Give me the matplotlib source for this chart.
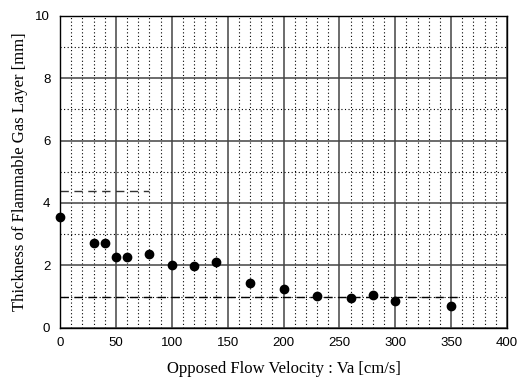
import numpy as np
import matplotlib
matplotlib.use('Agg')
import matplotlib.pyplot as plt

# measured thickness vs opposed flow velocity
velocity = [0, 30, 40, 50, 60, 80, 100, 120, 140, 170, 200, 230, 260, 280, 300, 350]
thickness = [3.55, 2.72, 2.72, 2.27, 2.28, 2.37, 2.02, 1.97, 2.11, 1.43, 1.25,
             1.02, 0.94, 1.05, 0.86, 0.69]

# reference dashed levels: (x range, y)
upper_x = [0, 80]
upper_y = 4.4
lower_x = [0, 360]
lower_y = 1.0

fig = plt.figure(figsize=(5.2, 3.78), dpi=100)
ax = fig.add_axes([0.1154, 0.133, 0.8596, 0.825])

ax.set_xlim(0, 400)
ax.set_ylim(0, 10)
ax.set_xticks(np.arange(0, 401, 50))
ax.set_yticks(np.arange(0, 11, 2))
ax.set_xticks(np.arange(0, 401, 10), minor=True)
ax.set_yticks(np.arange(0, 11, 1), minor=True)

ax.grid(which='minor', color='black', linestyle=(0, (1, 2.2)), linewidth=0.8)
ax.grid(which='major', color='#444444', linestyle='-', linewidth=1.1)
ax.tick_params(which='both', direction='in', length=0)
ax.tick_params(which='major', labelsize=9.5, pad=7)
ax.set_axisbelow(True)

for lbl in ax.get_xticklabels() + ax.get_yticklabels():
    lbl.set_family('Liberation Sans')

for s in ax.spines.values():
    s.set_color('black')
    s.set_linewidth(1.0)

ax.plot(upper_x, [upper_y, upper_y], color='#333333', linestyle=(0, (6, 4)), linewidth=1.0)
ax.plot(lower_x, [lower_y, lower_y], color='black', linestyle=(0, (6, 4)), linewidth=1.0)
ax.plot(velocity, thickness, 'o', color='black', markersize=6, clip_on=False, zorder=5)

ax.set_xlabel('Opposed Flow Velocity : Va [cm/s]', family='Liberation Serif', fontsize=12, labelpad=8)
ax.set_ylabel('Thickness of Flammable Gas Layer [mm]', family='Liberation Serif', fontsize=12, labelpad=5)

fig.savefig('out.png', dpi=100)
